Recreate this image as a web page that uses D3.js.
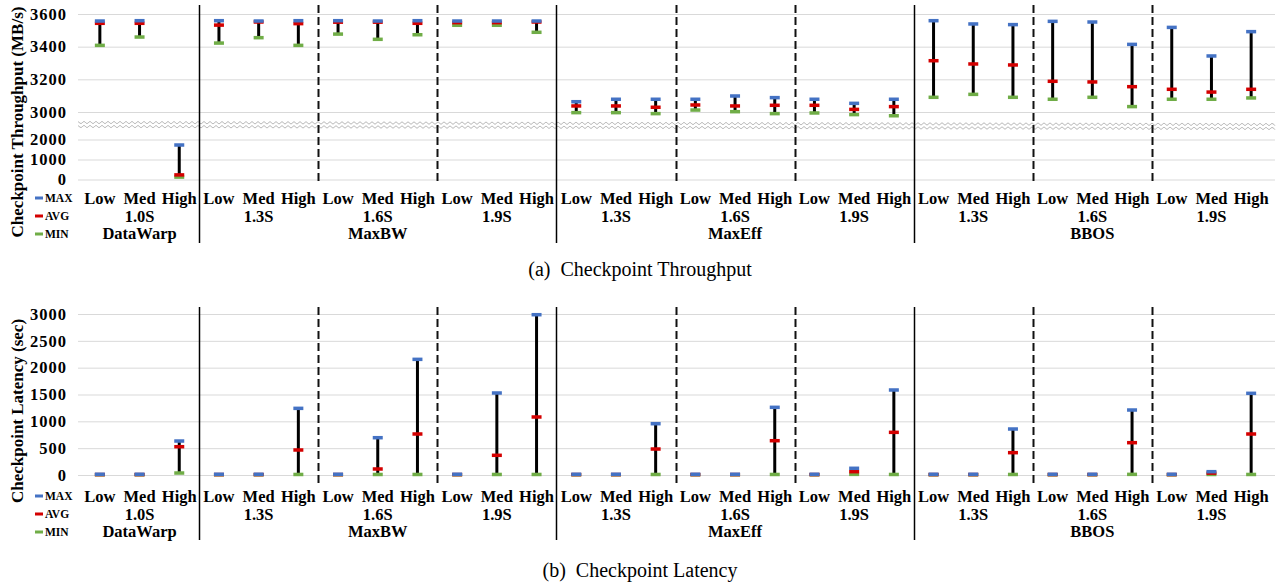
<!DOCTYPE html>
<html>
<head>
<meta charset="utf-8">
<script src="https://cdn.jsdelivr.net/npm/d3@7"></script>
<style>
  body { margin: 0; background: #fff; }
  svg { display: block; font-family: "Liberation Serif", "Times New Roman", serif; }
</style>
</head>
<body>
<svg id="chart" width="1285" height="585"></svg>
<script>
// categories
const levels = ["Low", "Med", "High"];
const schedules = ["1.0S", "1.3S", "1.6S", "1.9S", "1.3S", "1.6S", "1.9S", "1.3S", "1.6S", "1.9S"];
const systems = ["DataWarp", "MaxBW", "MaxBW", "MaxBW", "MaxEff", "MaxEff", "MaxEff", "BBOS", "BBOS", "BBOS"];

// (a) checkpoint throughput, MB/s  (3 levels per schedule)
const tputMax = [3557, 3559, 1725, 3559, 3557, 3559, 3559, 3557, 3559, 3557, 3557, 3557,
                 3063, 3078, 3078, 3078, 3098, 3088, 3078, 3053, 3078,
                 3559, 3539, 3535, 3555, 3551, 3414, 3518, 3343, 3492];
const tputAvg = [3543, 3543, 230, 3532, 3551, 3541, 3550, 3550, 3543, 3547, 3547, 3551,
                 3037, 3037, 3029, 3043, 3037, 3041, 3041, 3016, 3033,
                 3314, 3294, 3288, 3188, 3184, 3155, 3139, 3122, 3139];
const tputMin = [3408, 3459, 120, 3422, 3455, 3408, 3477, 3445, 3473, 3531, 3531, 3488,
                 2996, 2996, 2990, 3012, 3002, 2990, 2994, 2984, 2977,
                 3090, 3108, 3090, 3078, 3090, 3033, 3078, 3078, 3086];

// (b) checkpoint latency, sec
const latMax = [14, 14, 633, 14, 14, 1242, 14, 695, 2155, 14, 1528, 2987,
                14, 14, 956, 14, 14, 1261, 14, 125, 1584,
                14, 14, 857, 14, 14, 1211, 14, 62, 1522];
const latAvg = [8, 8, 527, 8, 8, 466, 8, 112, 764, 8, 367, 1081,
                8, 8, 484, 8, 8, 639, 8, 62, 795,
                8, 8, 416, 8, 8, 602, 8, 35, 764];
const latMin = [4, 4, 37, 4, 4, 10, 4, 10, 10, 4, 10, 10,
                4, 4, 10, 4, 4, 10, 4, 12, 10,
                4, 4, 10, 4, 4, 12, 4, 10, 10];

const tputTicksHi = [3000, 3200, 3400, 3600];
const tputTicksLo = [0, 1000, 2000];
const latTicks = [0, 500, 1000, 1500, 2000, 2500, 3000];

const colors = { max: "#4472c4", avg: "#d40000", min: "#70ad47" };

const svg = d3.select("#chart");
const plotLeft = 78, plotRight = 1275;

const x = d3.scaleBand()
  .domain(d3.range(schedules.length * levels.length))
  .range([80, 1271]);

function gridAxis(g, scale, ticks) {
  g.attr("transform", `translate(${plotLeft},0)`)
    .call(d3.axisLeft(scale).tickValues(ticks).tickSize(-(plotRight - plotLeft)).tickPadding(11).tickFormat(d3.format("d")))
    .call(a => a.select(".domain").remove())
    .call(a => a.selectAll(".tick line").attr("stroke", "#d9d9d9").attr("stroke-width", 1))
    .call(a => a.selectAll(".tick text")
      .attr("fill", "#000").attr("font-size", 16.5).attr("font-weight", "bold")
      .attr("letter-spacing", 1)
      .attr("font-family", "Liberation Serif, serif"));
}

function drawPanel(o) {
  const g = svg.append("g");

  // error bars
  const bars = g.append("g").selectAll("g")
    .data(d3.range(o.max.length))
    .join("g")
    .attr("transform", i => `translate(${x(i) + x.bandwidth() / 2},0)`);

  bars.append("line")
    .attr("y1", i => o.y(o.max[i])).attr("y2", i => o.y(o.min[i]))
    .attr("stroke", "#000").attr("stroke-width", 3);

  [["min", o.min], ["avg", o.avg], ["max", o.max]].forEach(([k, arr]) => {
    bars.append("rect")
      .attr("x", -5).attr("width", 10)
      .attr("y", i => o.y(arr[i]) - 1.75).attr("height", 3.5)
      .attr("fill", colors[k]);
  });

  // separators between schedules
  for (let s = 1; s < schedules.length; s++) {
    const sx = Math.round(x(s * 3)) + 0.5;
    const solid = systems[s] !== systems[s - 1];
    g.append("line")
      .attr("x1", sx).attr("x2", sx)
      .attr("y1", o.top).attr("y2", solid ? o.sepBottom : o.dashBottom)
      .attr("stroke", solid ? "#000" : "#111")
      .attr("stroke-width", solid ? 1.5 : 2)
      .attr("stroke-dasharray", solid ? null : "8,4");
  }

  // category labels
  const lab = g.append("g").attr("font-weight", "bold").attr("font-size", 16.5).attr("text-anchor", "middle");
  lab.selectAll(".lvl")
    .data(d3.range(o.max.length))
    .join("text")
    .attr("x", i => x(i) + x.bandwidth() / 2)
    .attr("y", o.labelY)
    .text(i => levels[i % 3]);
  lab.selectAll(".sch")
    .data(schedules)
    .join("text")
    .attr("x", (d, s) => x(s * 3 + 1) + x.bandwidth() / 2)
    .attr("y", o.labelY + 18)
    .text(d => d);
  const sysNames = Array.from(new Set(systems));
  lab.selectAll(".sys")
    .data(sysNames)
    .join("text")
    .attr("x", name => {
      const idx = d3.range(systems.length).filter(s => systems[s] === name);
      return (x(idx[0] * 3) + x(idx[idx.length - 1] * 3 + 2) + x.bandwidth()) / 2;
    })
    .attr("y", o.labelY + 35)
    .text(d => d);

  // legend
  const leg = g.append("g").attr("font-weight", "bold").attr("font-size", 11.5);
  [["MAX", "max"], ["AVG", "avg"], ["MIN", "min"]].forEach(([t, k], j) => {
    const ly = o.labelY - 6 + j * 18;
    leg.append("rect").attr("x", 35).attr("y", ly - 1.5).attr("width", 8).attr("height", 3).attr("fill", colors[k]);
    leg.append("text").attr("x", 45).attr("y", ly + 4).text(t);
  });

  // y title
  g.append("text")
    .attr("transform", `translate(23,${o.titleY}) rotate(-90)`)
    .attr("text-anchor", "middle").attr("font-weight", "bold").attr("font-size", 17)
    .text(o.title);

  // caption
  g.append("text")
    .attr("x", 640).attr("y", o.captionY)
    .attr("text-anchor", "middle").attr("font-size", 20)
    .attr("xml:space", "preserve").style("white-space", "pre")
    .text(o.caption);
  return g;
}

// (a) broken axis: upper and lower segment
const yHi = d3.scaleLinear().domain([3000, 3600]).range([112, 14]);
const yLo = d3.scaleLinear().domain([0, 2000]).range([179.5, 139.5]);
const yTput = v => v > 2500 ? yHi(v) : yLo(v);

svg.append("g").call(gridAxis, yHi, tputTicksHi);
svg.append("g").call(gridAxis, yLo, tputTicksLo);

// break marks (wavy)
const waveGen = (y0, y1) => {
  const pts = d3.range(plotLeft, plotRight + 1, 3).map((px, k) => {
    const t = (px - plotLeft) / (plotRight - plotLeft);
    return [px, y0 + (y1 - y0) * t + (k % 2 ? 1 : -1)];
  });
  return d3.line().curve(d3.curveCatmullRom)(pts);
};
svg.append("rect").attr("x", plotLeft).attr("y", 120).attr("width", plotRight - plotLeft).attr("height", 11).attr("fill", "#fff");
svg.append("path").attr("d", waveGen(122.5, 124.5)).attr("fill", "none").attr("stroke", "#a6a6a6").attr("stroke-width", 0.9);
svg.append("path").attr("d", waveGen(126.5, 128.5)).attr("fill", "none").attr("stroke", "#a6a6a6").attr("stroke-width", 0.9);

drawPanel({
  max: tputMax, avg: tputAvg, min: tputMin, y: yTput,
  top: 5, sepBottom: 243, dashBottom: 183, labelY: 204,
  title: "Checkpoint Throughput (MB/s)", titleY: 122,
  caption: "(a)  Checkpoint Throughput", captionY: 276
});

// (b) latency
const yLat = d3.scaleLinear().domain([0, 3000]).range([475, 314]);
svg.append("g").call(gridAxis, yLat, latTicks);

drawPanel({
  max: latMax, avg: latAvg, min: latMin, y: yLat,
  top: 307, sepBottom: 540, dashBottom: 485, labelY: 502,
  title: "Checkpoint Latency (sec)", titleY: 411,
  caption: "(b)  Checkpoint Latency", captionY: 577
});
</script>
</body>
</html>
